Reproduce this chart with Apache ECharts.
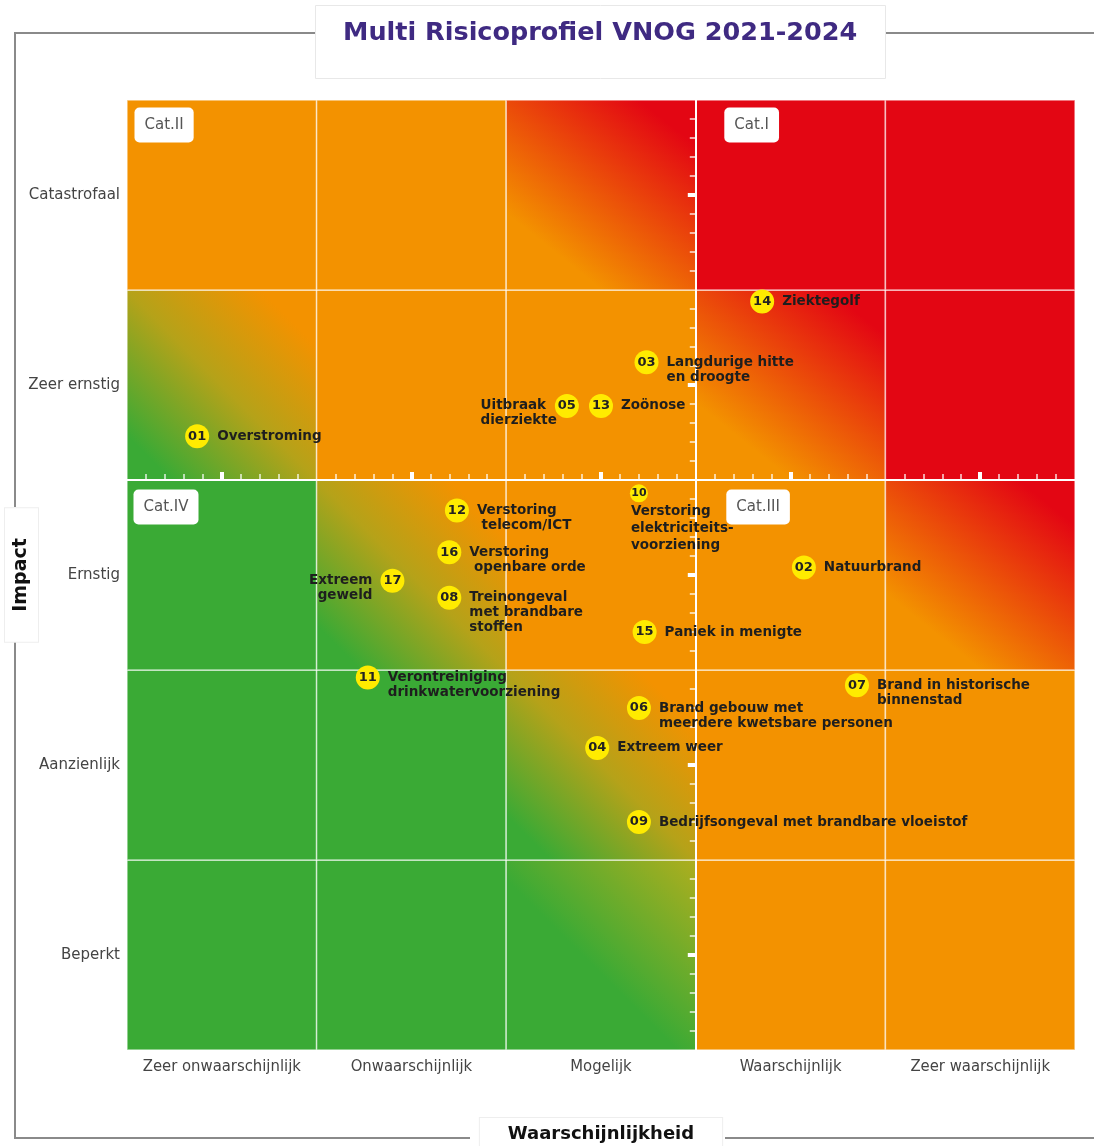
<!DOCTYPE html>
<html>
<head>
<meta charset="utf-8">
<title>Multi Risicoprofiel VNOG 2021-2024</title>
<script src="https://cdn.jsdelivr.net/npm/echarts@6/dist/echarts.min.js"></script>
<style>
html, body { margin: 0; padding: 0; background: #fff; }
#main { width: 1094px; height: 1146px; }
</style>
</head>
<body>
<div id="main"></div>
<script>
// categorieen van de assen
var likelihoodCats = ['Zeer onwaarschijnlijk', 'Onwaarschijnlijk', 'Mogelijk', 'Waarschijnlijk', 'Zeer waarschijnlijk'];
var impactCats = ['Beperkt', 'Aanzienlijk', 'Ernstig', 'Zeer ernstig', 'Catastrofaal'];

// kleur per cel, rij van onder (Beperkt) naar boven (Catastrofaal)
// G = groen, O = oranje, R = rood, GO / OR / GL = verloop
var cellColors = [
	['G', 'G', 'GL', 'O', 'O'],
	['G', 'G', 'GO', 'O', 'O'],
	['G', 'GO', 'O', 'O', 'OR'],
	['GO', 'O', 'O', 'OR', 'R'],
	['O', 'O', 'OR', 'R', 'R']
];

// risico's
var riskIds = ['01', '02', '03', '04', '05', '06', '07', '08', '09', '10', '11', '12', '13', '14', '15', '16', '17'];
var riskNames = [
	'Overstroming',
	'Natuurbrand',
	'Langdurige hitte\nen droogte',
	'Extreem weer',
	'Uitbraak\ndierziekte',
	'Brand gebouw met\nmeerdere kwetsbare personen',
	'Brand in historische\nbinnenstad',
	'Treinongeval\nmet brandbare\nstoffen',
	'Bedrijfsongeval met brandbare vloeistof',
	'Verstoring\nelektriciteits-\nvoorziening',
	'Verontreiniging\ndrinkwatervoorziening',
	'Verstoring\n telecom/ICT',
	'Zoönose',
	'Ziektegolf',
	'Paniek in menigte',
	'Verstoring\n openbare orde',
	'Extreem\ngeweld'
];
var riskLikelihood = [0.37, 3.57, 2.74, 2.48, 2.32, 2.70, 3.85, 1.70, 2.70, 2.70, 1.27, 1.74, 2.50, 3.35, 2.73, 1.70, 1.40];
var riskImpact = [3.23, 2.54, 3.62, 1.59, 3.39, 1.80, 1.92, 2.38, 1.20, 2.93, 1.96, 2.84, 3.39, 3.94, 2.20, 2.62, 2.47];

// kwadranten
var quadrantNames = ['Cat.II', 'Cat.I', 'Cat.IV', 'Cat.III'];
var quadrantX = [0, 3, 0, 3];
var quadrantY = [5, 5, 3, 3];

// opmaak
var GRID = { left: 127, top: 100, width: 948, height: 950 };
var GREEN = '#3AAA35', ORANGE = '#F39200', RED = '#E30613';
var LH = 15;
var labelSide = { '05': 'leftBlock', '17': 'left', '10': 'below' };
var quadrantOffsets = [[8, 8], [29, 8], [7, 10], [31, 10]];
var halfTicks = likelihoodCats.map(function (c, i) { return i + 0.5; });

function cellFill(kind) {
	var LG = echarts.graphic.LinearGradient;
	if (kind === 'G') return GREEN;
	if (kind === 'O') return ORANGE;
	if (kind === 'R') return RED;
	if (kind === 'GO') return new LG(0, 1, 1, 0, [{ offset: 0.12, color: GREEN }, { offset: 0.5, color: '#B5A219' }, { offset: 0.85, color: ORANGE }]);
	if (kind === 'OR') return new LG(0.1, 1, 0.9, 0, [{ offset: 0.2, color: ORANGE }, { offset: 0.9, color: RED }]);
	if (kind === 'GL') return new LG(0, 1, 1, 0, [{ offset: 0.45, color: GREEN }, { offset: 1, color: '#AFAE1E' }]);
	return '#fff';
}

var cellData = [];
for (var r = 0; r < impactCats.length; r++) {
	for (var c = 0; c < likelihoodCats.length; c++) {
		cellData.push([c, r, cellColors[r][c]]);
	}
}

var labelFont = { fontFamily: 'DejaVu Sans', fontWeight: 'bold', fontSize: 13.5, color: '#1e1e1e', lineHeight: LH };

var circleData = [];
var nameData = [];
for (var i = 0; i < riskIds.length; i++) {
	var id = riskIds[i];
	var small = id === '10';
	var size = small ? 18 : 24;
	circleData.push({
		value: [riskLikelihood[i], riskImpact[i]],
		symbolSize: size,
		label: { formatter: id, fontSize: small ? 11 : 13 }
	});
	var side = labelSide[id] || 'right';
	var label;
	if (side === 'below') {
		label = { position: [1, 19], align: 'left', verticalAlign: 'top', lineHeight: 17 };
	} else if (side === 'left') {
		label = { position: 'left', distance: 8, align: 'right', verticalAlign: 'top', offset: [0, -LH / 2] };
	} else if (side === 'leftBlock') {
		var lines = riskNames[i].split('\n').map(function (l) { return '{l|' + l + '}'; }).join('\n');
		label = {
			position: 'left', distance: 8, align: 'right', verticalAlign: 'top', offset: [10, -LH / 2],
			formatter: lines,
			rich: { l: Object.assign({ align: 'left' }, labelFont) }
		};
	} else {
		label = { position: 'right', distance: 8, align: 'left', verticalAlign: 'top', offset: [0, -LH / 2] };
	}
	if (!label.formatter) label.formatter = riskNames[i];
	nameData.push({ value: [riskLikelihood[i], riskImpact[i]], symbolSize: size, label: label });
}

var quadrantData = quadrantNames.map(function (n, i) {
	return { name: n, value: [quadrantX[i], quadrantY[i]], label: { position: quadrantOffsets[i] } };
});

var frameColor = '#8a8a8a';
function seg(x1, y1, x2, y2) {
	return { type: 'line', shape: { x1: x1, y1: y1, x2: x2, y2: y2 }, style: { stroke: frameColor, lineWidth: 2 }, silent: true };
}

var option = {
	animation: false,
	backgroundColor: '#fff',
	title: {
		text: 'Multi Risicoprofiel VNOG 2021-2024',
		left: 315,
		top: 5,
		padding: [15, 28, 33, 28],
		backgroundColor: '#fff',
		borderColor: '#e8e8e8',
		borderWidth: 1,
		textStyle: { fontFamily: 'DejaVu Sans', fontWeight: 'bold', fontSize: 25.5, color: '#3f2a82' }
	},
	graphic: [
		seg(15, 33, 315, 33),
		seg(885, 33, 1094, 33),
		seg(15, 32, 15, 507),
		seg(15, 641, 15, 1139),
		seg(15, 1138, 470, 1138),
		seg(725, 1138, 1094, 1138)
	],
	grid: {
		left: GRID.left,
		top: GRID.top,
		width: GRID.width,
		height: GRID.height,
		outerBoundsMode: 'none'
	},
	xAxis: [{
		type: 'value',
		min: 0,
		max: 5,
		interval: 0.5,
		position: 'bottom',
		axisLine: { show: false, onZero: false },
		axisTick: { show: false },
		splitLine: { show: false },
		axisLabel: {
			margin: 8,
			fontFamily: 'DejaVu Sans Condensed',
			fontSize: 16.5,
			color: '#444',
			formatter: function (v) {
				return v % 1 === 0.5 ? likelihoodCats[Math.floor(v)] : '';
			}
		},
		name: 'Waarschijnlijkheid',
		nameLocation: 'middle',
		nameGap: 68,
		nameMoveOverlap: false,
		nameTextStyle: {
			fontFamily: 'DejaVu Sans', fontWeight: 'bold', fontSize: 18, color: '#111',
			backgroundColor: '#fff', borderColor: '#eee', borderWidth: 1, padding: [7, 28, 10, 28]
		}
	}, {
		// horizontale middenlijn
		type: 'value',
		min: 0,
		max: 5,
		interval: 0.5,
		position: 'top',
		offset: -GRID.height * 2 / 5,
		z: 4,
		axisLine: { show: true, onZero: false, lineStyle: { color: '#fff', width: 2 } },
		axisTick: { show: true, customValues: halfTicks, length: 8, lineStyle: { color: '#fff', width: 4 } },
		minorTick: { show: true, splitNumber: 5, length: 6, lineStyle: { color: 'rgba(255,255,255,0.85)', width: 1.5 } },
		axisLabel: { show: false },
		splitLine: { show: false }
	}],
	yAxis: [{
		type: 'value',
		min: 0,
		max: 5,
		interval: 0.5,
		position: 'left',
		axisLine: { show: false, onZero: false },
		axisTick: { show: false },
		splitLine: { show: false },
		axisLabel: {
			margin: 7,
			fontFamily: 'DejaVu Sans',
			fontSize: 15,
			color: '#444',
			formatter: function (v) {
				return v % 1 === 0.5 ? impactCats[Math.floor(v)] : '';
			}
		},
		name: 'Impact',
		nameLocation: 'middle',
		nameRotate: 90,
		nameGap: 89,
		nameMoveOverlap: false,
		nameTextStyle: {
			fontFamily: 'DejaVu Sans', fontWeight: 'bold', fontSize: 19, color: '#111',
			backgroundColor: '#fff', borderColor: '#eee', borderWidth: 1, padding: [7, 30]
		}
	}, {
		// verticale middenlijn
		type: 'value',
		min: 0,
		max: 5,
		interval: 0.5,
		position: 'right',
		offset: -GRID.width * 2 / 5,
		z: 4,
		axisLine: { show: true, onZero: false, lineStyle: { color: '#fff', width: 2 } },
		axisTick: { show: true, inside: true, customValues: halfTicks, length: 8, lineStyle: { color: '#fff', width: 4 } },
		minorTick: { show: true, splitNumber: 5, length: 6, lineStyle: { color: 'rgba(255,255,255,0.85)', width: 1.5 } },
		axisLabel: { show: false },
		splitLine: { show: false }
	}],
	series: [{
		type: 'custom',
		name: 'cellen',
		z: 1,
		silent: true,
		clip: false,
		data: cellData,
		renderItem: function (params, api) {
			var p0 = api.coord([api.value(0), api.value(1) + 1]);
			var p1 = api.coord([api.value(0) + 1, api.value(1)]);
			return {
				type: 'rect',
				shape: { x: p0[0], y: p0[1], width: p1[0] - p0[0], height: p1[1] - p0[1] },
				style: { fill: cellFill(cellData[params.dataIndex][2]), stroke: 'rgba(255,255,255,0.6)', lineWidth: 1.5 }
			};
		}
	}, {
		type: 'scatter',
		name: 'kwadranten',
		z: 5,
		silent: true,
		clip: false,
		symbolSize: 1,
		itemStyle: { color: 'transparent', opacity: 1 },
		data: quadrantData,
		label: {
			show: true,
			formatter: '{b}',
			align: 'left',
			verticalAlign: 'top',
			fontFamily: 'DejaVu Sans',
			fontSize: 15,
			color: '#555',
			backgroundColor: '#fff',
			borderRadius: 5,
			padding: [10, 10]
		}
	}, {
		type: 'scatter',
		name: 'namen',
		z: 6,
		silent: true,
		clip: false,
		symbol: 'circle',
		itemStyle: { color: 'transparent', opacity: 1 },
		data: nameData,
		label: Object.assign({ show: true }, labelFont)
	}, {
		type: 'scatter',
		name: 'risico',
		z: 7,
		silent: true,
		clip: false,
		symbol: 'circle',
		itemStyle: { color: '#FFEB00', opacity: 1 },
		data: circleData,
		label: {
			show: true,
			position: 'inside',
			fontFamily: 'DejaVu Sans',
			fontWeight: 'bold',
			color: '#222'
		}
	}]
};

var myChart = echarts.init(document.getElementById('main'));
myChart.setOption(option);
</script>
</body>
</html>
